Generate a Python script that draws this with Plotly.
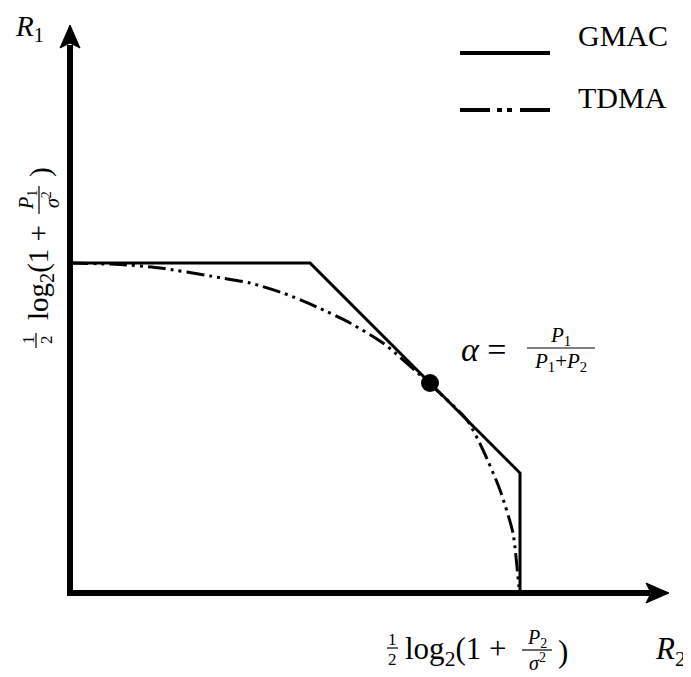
import plotly.graph_objects as go

# ---------------- data (rate units, R2 horizontal, R1 vertical) ----------------
gmac_r2 = [0.0, 2.4, 4.5, 4.5]
gmac_r1 = [3.30, 3.30, 1.20, 0.0]
tdma_r2 = [0.0, 0.5, 0.9, 1.4, 1.8, 2.13, 2.47, 2.8, 3.13, 3.6, 3.97, 4.13, 4.3, 4.43, 4.49, 4.5]
tdma_r1 = [3.30, 3.285, 3.25, 3.17, 3.10, 3.00, 2.86, 2.70, 2.50, 2.09, 1.73, 1.43, 1.03, 0.60, 0.06, 0.0]
alpha_r2 = [3.6]
alpha_r1 = [2.10]
legend_names = ["GMAC", "TDMA"]

WIN_W, WIN_H = 691, 677
PAD = 8  # default page margin around the plot div
W, H = WIN_W - PAD, WIN_H - PAD
OX, OY, S = 70, 593, 100.0  # origin (window pixels) and pixels per unit


def xd(px):
    return (px - OX) / S


def yd(py):
    return (OY - py) / S


SERIF = "Liberation Serif, Times New Roman, Times, serif"
BLACK = "#000000"
TDMA_DASH = "18px,5px,3px,5px,3px,5px"

fig = go.Figure()
fig.add_trace(go.Scatter(x=gmac_r2, y=gmac_r1, mode="lines",
                         line=dict(color=BLACK, width=3), name=legend_names[0],
                         showlegend=False))
fig.add_trace(go.Scatter(x=tdma_r2, y=tdma_r1, mode="lines",
                         line=dict(color=BLACK, width=3, dash=TDMA_DASH,
                                   shape="spline", smoothing=0.6),
                         name=legend_names[1], showlegend=False))
fig.add_trace(go.Scatter(x=alpha_r2, y=alpha_r1, mode="markers",
                         marker=dict(color=BLACK, size=18), showlegend=False))

# legend samples
fig.add_trace(go.Scatter(x=[xd(460), xd(550)], y=[yd(53), yd(53)], mode="lines",
                         line=dict(color=BLACK, width=4), showlegend=False, hoverinfo="skip"))
fig.add_trace(go.Scatter(x=[xd(460), xd(550)], y=[yd(110), yd(110)], mode="lines",
                         line=dict(color=BLACK, width=4, dash="30px,7px,5px,5px,5px,8px"),
                         showlegend=False, hoverinfo="skip"))

shapes = []
# axes
shapes.append(dict(type="line", x0=xd(70), y0=yd(596), x1=xd(70), y1=yd(45),
                   line=dict(color=BLACK, width=6)))
shapes.append(dict(type="line", x0=xd(67), y0=yd(593), x1=xd(650), y1=yd(593),
                   line=dict(color=BLACK, width=6)))


def path(pts):
    return "M " + " L ".join(f"{xd(a):.4f},{yd(b):.4f}" for a, b in pts) + " Z"


shapes.append(dict(type="path", path=path([(70, 25), (60, 48), (70, 43), (80, 48)]),
                   fillcolor=BLACK, line=dict(color=BLACK, width=1)))
shapes.append(dict(type="path", path=path([(669, 593), (646, 583), (651, 593), (646, 603)]),
                   fillcolor=BLACK, line=dict(color=BLACK, width=1)))


def bar_h(x0, x1, y):
    shapes.append(dict(type="line", x0=xd(x0), x1=xd(x1), y0=yd(y), y1=yd(y),
                       line=dict(color=BLACK, width=1.2)))


def bar_v(x, y0, y1):
    shapes.append(dict(type="line", x0=xd(x), x1=xd(x), y0=yd(y0), y1=yd(y1),
                       line=dict(color=BLACK, width=1.2)))


ann = []


def txt(text, px, py, size, xanchor="center", angle=0, yanchor="middle"):
    ann.append(dict(text=text, x=xd(px), y=yd(py), xref="x", yref="y",
                    showarrow=False, xanchor=xanchor, yanchor=yanchor,
                    textangle=angle, borderpad=0,
                    font=dict(family=SERIF, size=size, color=BLACK)))


# legend text
txt(legend_names[0], 577, 35, 30, "left")
txt(legend_names[1], 577, 97, 30, "left")

# axis names
txt("<i>R</i><sub>1</sub>", 29, PAD + 0.5, 29, yanchor="top")
txt("<i>R</i><sub>2</sub>", 670, 651, 31)

# x label: 1/2 log2(1 + P2/sigma^2)
txt("1", 392, 639, 17)
bar_h(387, 398, 648)
txt("2", 392, 659, 17)
txt("log<sub>2</sub>(1 +", 404, 651, 31, "left")
txt("<i>P</i><sub>2</sub>", 537, 638, 20)
bar_h(522, 552, 650)
txt("<i>σ</i><sup>2</sup>", 537, 662, 20)
txt(")", 563, 651, 31)

# y label (rotated)
txt("1", 28, 340, 17, angle=-90)
bar_v(36, 333, 348)
txt("2", 46, 340, 17, angle=-90)
txt("log<sub>2</sub>(1 +", 40, 273, 29, angle=-90)
txt("<i>P</i><sub>1</sub>", 27, 200, 20, angle=-90)
bar_v(39, 186, 214)
txt("<i>σ</i><sup>2</sup>", 51, 200, 20, angle=-90)
txt(")", 40, 172, 29, angle=-90)

# alpha label
txt("<i>α</i> =", 460, 349, 34, "left")
txt("<i>P</i><sub>1</sub>", 560, 336, 21)
bar_h(527, 595, 348)
txt("<i>P</i><sub>1</sub>+<i>P</i><sub>2</sub>", 560, 362, 21)

fig.update_layout(
    width=W, height=H, autosize=False,
    margin=dict(l=0, r=0, t=0, b=0),
    paper_bgcolor="white", plot_bgcolor="white",
    xaxis=dict(range=[xd(PAD), xd(WIN_W)], visible=False, fixedrange=True),
    yaxis=dict(range=[yd(WIN_H), yd(PAD)], visible=False, fixedrange=True),
    shapes=shapes, annotations=ann, showlegend=False,
)

fig.write_html("out.html", config={"displayModeBar": False})
